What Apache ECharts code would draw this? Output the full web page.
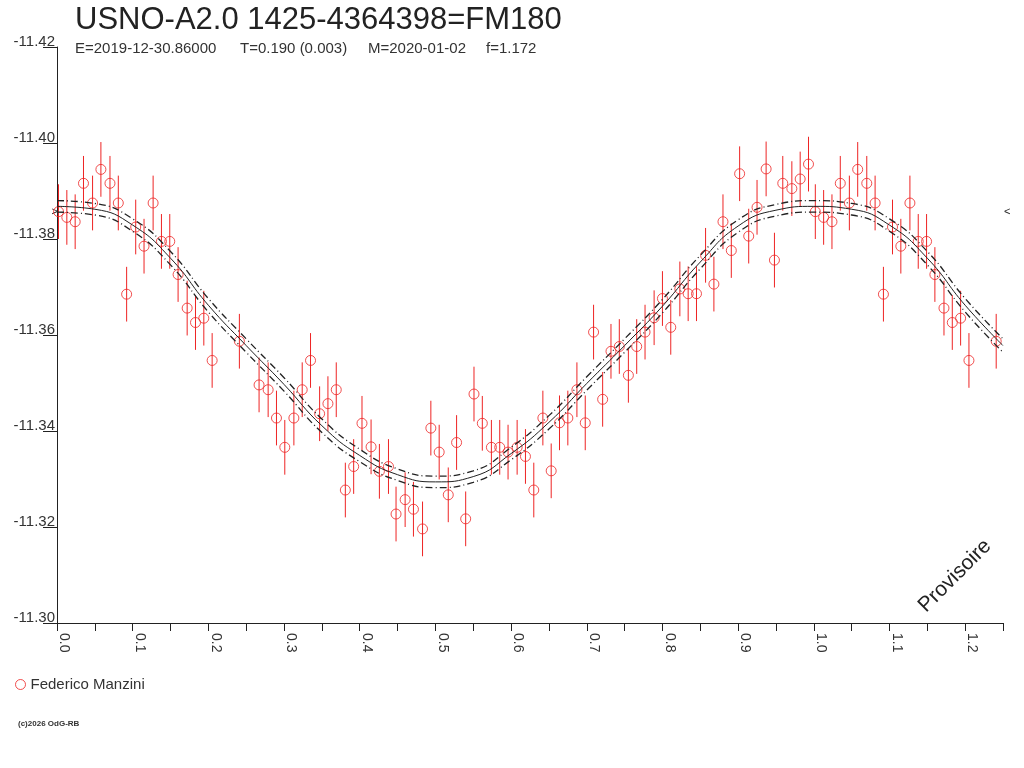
<!DOCTYPE html>
<html>
<head>
<meta charset="utf-8">
<title>USNO-A2.0 1425-4364398=FM180</title>
<script src="https://cdn.jsdelivr.net/npm/echarts@6/dist/echarts.min.js"></script>
<style>
  html, body { margin: 0; padding: 0; background: #fff; }
  #chart { width: 1024px; height: 768px; }
</style>
</head>
<body>
<div id="chart"></div>
<script>
// observations : phase / magnitude
const phases = [
  0.002, 0.013, 0.024, 0.035, 0.047, 0.058, 0.070, 0.081, 0.092, 0.104,
  0.115, 0.127, 0.138, 0.149, 0.160, 0.172, 0.183, 0.194, 0.205, 0.241,
  0.267, 0.279, 0.290, 0.301, 0.313, 0.324, 0.335, 0.347, 0.358, 0.369,
  0.381, 0.392, 0.403, 0.415, 0.426, 0.438, 0.448, 0.460, 0.471, 0.483,
  0.494, 0.505, 0.517, 0.528, 0.540, 0.551, 0.562, 0.574, 0.585, 0.596,
  0.608, 0.619, 0.630, 0.642, 0.653, 0.664, 0.675, 0.687, 0.698, 0.709,
  0.721, 0.732, 0.743, 0.755, 0.766, 0.777, 0.789, 0.800, 0.811, 0.823,
  0.834, 0.845, 0.857, 0.868, 0.880, 0.891, 0.902, 0.914, 0.925, 0.937,
  0.948, 0.959, 0.971, 0.982, 0.993
];
const mags = [
  -11.3857, -11.3845, -11.3836, -11.3916, -11.3875, -11.3945, -11.3916, -11.3875, -11.3685, -11.3825,
  -11.3785, -11.3875, -11.3795, -11.3795, -11.3726, -11.3656, -11.3626, -11.3635, -11.3547, -11.3587,
  -11.3496, -11.3486, -11.3427, -11.3366, -11.3427, -11.3486, -11.3547, -11.3436, -11.3457, -11.3486,
  -11.3277, -11.3326, -11.3416, -11.3367, -11.3316, -11.3326, -11.3227, -11.3257, -11.3237, -11.3196,
  -11.3406, -11.3356, -11.3267, -11.3376, -11.3217, -11.3477, -11.3416, -11.3366, -11.3366, -11.3356,
  -11.3366, -11.3347, -11.3277, -11.3427, -11.3317, -11.3417, -11.3427, -11.3486, -11.3417, -11.3606,
  -11.3466, -11.3566, -11.3576, -11.3516, -11.3576, -11.3606, -11.3636, -11.3676, -11.3616, -11.3696,
  -11.3686, -11.3686, -11.3766, -11.3706, -11.3836, -11.3776, -11.3936, -11.3806, -11.3866, -11.3946,
  -11.3756, -11.3916, -11.3905, -11.3925, -11.3956
];
const errorBar = 0.0057;

// courbe ajustee + bande
const fitPhases = [
  0.00, 0.05, 0.10, 0.15, 0.20, 0.25, 0.30, 0.35, 0.40, 0.45, 0.50, 0.55, 0.60,
  0.65, 0.70, 0.75, 0.80, 0.85, 0.90, 0.95, 1.00, 1.05, 1.10, 1.15, 1.20, 1.25
];
const fitMags = [
  -11.3868, -11.3862, -11.3829, -11.3760, -11.3662, -11.3578, -11.3497, -11.3411, -11.3349,
  -11.3309, -11.3294, -11.3305, -11.3353, -11.3418, -11.3499, -11.3578, -11.3660, -11.3752,
  -11.3827, -11.3860, -11.3868, -11.3862, -11.3829, -11.3760, -11.3662, -11.3578
];
const fitBand = [
  0.0012, 0.0012, 0.0013, 0.0014, 0.0014, 0.0014, 0.0014, 0.0014, 0.0013,
  0.0012, 0.0012, 0.0012, 0.0013, 0.0014, 0.0014, 0.0014, 0.0014, 0.0014,
  0.0013, 0.0012, 0.0012, 0.0012, 0.0013, 0.0014, 0.0014, 0.0014
];
const maxLevel = -11.3856;

const observer = 'Federico Manzini';
const titleText = 'USNO-A2.0 1425-4364398=FM180';
const subtitleParts = ['E=2019-12-30.86000', 'T=0.190 (0.003)', 'M=2020-01-02', 'f=1.172'];
const phaseMax = 1.25;

const red = '#ee2424';
const ink = '#222';
const font = "'Liberation Sans', Arial, sans-serif";

class LightCurve {
  constructor() {
    this.chart = null;
    this.option = null;
  }
  //main
  showChart(id) {
    this.init(id);
    this.chart.setOption(this.option);
    this.addMarks();
  }
  init(id) {
    this.chart = echarts.init(document.getElementById(id));
    this.buildOptions();
  }
  //points repliés sur 0..1.25
  foldedPoints() {
    let pts = [];
    phases.forEach((p, i) => pts.push([p, mags[i]]));
    phases.forEach((p, i) => {
      if (p + 1 <= phaseMax) pts.push([p + 1, mags[i]]);
    });
    return pts;
  }
  buildOptions() {
    let pts = this.foldedPoints();
    let bars = pts.map(p => [p[0], p[1] - errorBar, p[1] + errorBar]);
    let fit = fitPhases.map((p, i) => [p, fitMags[i]]);
    let fitUp = fitPhases.map((p, i) => [p, fitMags[i] - fitBand[i]]);
    let fitLow = fitPhases.map((p, i) => [p, fitMags[i] + fitBand[i]]);
    let xPos = [75, 240, 368, 486];

    this.option = {
      animation: false,
      backgroundColor: '#fff',
      textStyle: {fontFamily: font},
      title: [{
        text: titleText,
        left: 75,
        top: 5,
        padding: 0,
        textStyle: {fontSize: 31, fontWeight: 'normal', color: ink, fontFamily: font}
      }],
      grid: {left: 57, right: 21, top: 47, bottom: 145, containLabel: false, outerBoundsMode: 'none'},
      legend: {
        left: 15,
        top: 677,
        padding: 0,
        itemWidth: 10,
        itemHeight: 10,
        itemGap: 10,
        selectedMode: false,
        textStyle: {fontSize: 15, color: '#333', fontFamily: font},
        data: [{
          name: observer,
          icon: 'circle',
          itemStyle: {color: 'transparent', borderColor: red, borderWidth: 1}
        }]
      },
      xAxis: {
        type: 'value',
        min: 0,
        max: phaseMax,
        interval: 0.05,
        axisLine: {lineStyle: {color: ink, width: 1}},
        axisTick: {show: true, length: 8, lineStyle: {color: ink}},
        splitLine: {show: false},
        axisLabel: {
          rotate: -90,
          margin: 10,
          fontSize: 14,
          color: '#333',
          align: 'left',
          verticalAlign: 'bottom',
          formatter: v => (Math.round(v * 20) % 2 === 0 ? v.toFixed(1) : '')
        }
      },
      yAxis: {
        type: 'value',
        inverse: true,
        min: -11.42,
        max: -11.30,
        interval: 0.02,
        axisLine: {show: true, lineStyle: {color: ink, width: 1}},
        axisTick: {show: true, length: 14, lineStyle: {color: ink}},
        splitLine: {show: false},
        axisLabel: {
          margin: 2,
          fontSize: 15,
          lineHeight: 10,
          color: '#333',
          align: 'right',
          verticalAlign: 'bottom',
          formatter: v => v.toFixed(2)
        }
      },
      graphic: [
        ...subtitleParts.map((t, i) => ({
          id: 'sub' + i,
          type: 'text',
          left: xPos[i],
          top: 41,
          style: {text: t, fontSize: 15, fill: '#333', fontFamily: font}
        })),
        {
          id: 'prov',
          type: 'text',
          x: 955,
          y: 576,
          rotation: Math.PI / 4,
          style: {text: 'Provisoire', fontSize: 21, fill: ink, fontFamily: font, align: 'center', verticalAlign: 'middle'}
        },
        {
          id: 'copy',
          type: 'text',
          left: 18,
          top: 720,
          style: {text: '(c)2026 OdG-RB', fontSize: 8, fontWeight: 'bold', fill: '#333', fontFamily: font}
        }
      ],
      series: [
        {
          name: 'err',
          type: 'custom',
          silent: true,
          data: bars,
          renderItem: (params, api) => {
            let a = api.coord([api.value(0), api.value(1)]);
            let b = api.coord([api.value(0), api.value(2)]);
            return {
              type: 'line',
              shape: {x1: a[0], y1: a[1], x2: b[0], y2: b[1]},
              style: {stroke: red, lineWidth: 1}
            };
          }
        },
        {
          name: observer,
          type: 'scatter',
          symbol: 'circle',
          symbolSize: 10,
          data: pts,
          itemStyle: {color: 'transparent', borderColor: red, borderWidth: 1}
        },
        {
          name: 'fit',
          type: 'line',
          data: fit,
          smooth: true,
          showSymbol: false,
          silent: true,
          lineStyle: {color: ink, width: 1}
        },
        {
          name: 'fitUp',
          type: 'line',
          data: fitUp,
          smooth: true,
          showSymbol: false,
          silent: true,
          lineStyle: {color: ink, width: 1.3, type: [7, 3, 1, 3]}
        },
        {
          name: 'fitLow',
          type: 'line',
          data: fitLow,
          smooth: true,
          showSymbol: false,
          silent: true,
          lineStyle: {color: ink, width: 1.3, type: [7, 3, 1, 3]}
        }
      ]
    };
  }
  //repères du maximum sur les deux bords
  addMarks() {
    let l = this.chart.convertToPixel({xAxisIndex: 0, yAxisIndex: 0}, [0, maxLevel]);
    let r = this.chart.convertToPixel({xAxisIndex: 0, yAxisIndex: 0}, [phaseMax, maxLevel]);
    this.chart.setOption({
      graphic: [
        {id: 'markL', type: 'text', x: l[0] + 1, y: l[1], style: {text: '>', fontSize: 11, fill: ink, align: 'right', verticalAlign: 'middle'}},
        {id: 'markR', type: 'text', x: r[0] + 1, y: r[1], style: {text: '<', fontSize: 11, fill: ink, align: 'left', verticalAlign: 'middle'}}
      ]
    });
  }
}

new LightCurve().showChart('chart');
</script>
</body>
</html>
